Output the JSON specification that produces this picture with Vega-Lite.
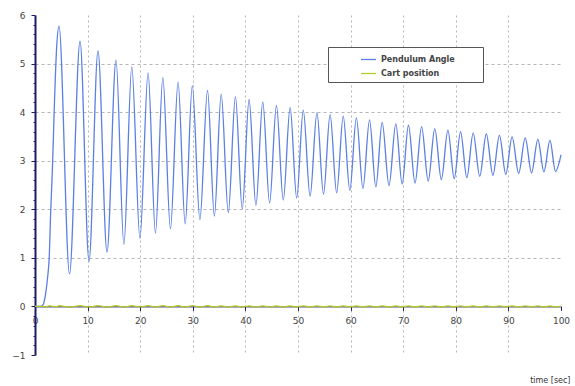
{
  "$schema": "https://vega.github.io/schema/vega-lite/v6.json",
  "width": 526,
  "height": 340,
  "autosize": {"type": "none"},
  "padding": {"left": 35, "top": 15, "right": 14, "bottom": 31},
  "background": "white",
  "config": {
    "view": {"stroke": null},
    "font": "DejaVu Sans"
  },
  "data": {
    "values": [
      {"t": 0, "Pendulum Angle": 0, "Cart position": 0},
      {"t": 1.0, "Pendulum Angle": 0.0, "Cart position": 0},
      {"t": 1.5, "Pendulum Angle": 0.03, "Cart position": 0},
      {"t": 2.0, "Pendulum Angle": 0.25, "Cart position": -0.01},
      {"t": 2.4, "Pendulum Angle": 0.6, "Cart position": 0},
      {"t": 2.7, "Pendulum Angle": 1.0, "Cart position": 0.01},
      {"t": 3.0, "Pendulum Angle": 2.0, "Cart position": 0.01},
      {"t": 3.3, "Pendulum Angle": 2.8, "Cart position": 0},
      {"t": 3.7, "Pendulum Angle": 4.2, "Cart position": 0},
      {"t": 4.1, "Pendulum Angle": 5.3, "Cart position": -0.01},
      {"t": 4.56, "Pendulum Angle": 5.77, "Cart position": 0.015},
      {"t": 6.56, "Pendulum Angle": 0.67, "Cart position": -0.01},
      {"t": 8.56, "Pendulum Angle": 5.46, "Cart position": 0.015},
      {"t": 10.27, "Pendulum Angle": 0.93, "Cart position": -0.01},
      {"t": 11.98, "Pendulum Angle": 5.26, "Cart position": 0.015},
      {"t": 13.69, "Pendulum Angle": 1.12, "Cart position": -0.01},
      {"t": 15.4, "Pendulum Angle": 5.07, "Cart position": 0.015},
      {"t": 16.9, "Pendulum Angle": 1.28, "Cart position": -0.01},
      {"t": 18.4, "Pendulum Angle": 4.93, "Cart position": 0.015},
      {"t": 19.95, "Pendulum Angle": 1.40, "Cart position": -0.01},
      {"t": 21.5, "Pendulum Angle": 4.81, "Cart position": 0.015},
      {"t": 22.9, "Pendulum Angle": 1.51, "Cart position": -0.01},
      {"t": 24.3, "Pendulum Angle": 4.71, "Cart position": 0.015},
      {"t": 25.75, "Pendulum Angle": 1.60, "Cart position": -0.01},
      {"t": 27.2, "Pendulum Angle": 4.62, "Cart position": 0.015},
      {"t": 28.55, "Pendulum Angle": 1.70, "Cart position": -0.01},
      {"t": 29.9, "Pendulum Angle": 4.54, "Cart position": 0.015},
      {"t": 31.35, "Pendulum Angle": 1.79, "Cart position": -0.01},
      {"t": 32.8, "Pendulum Angle": 4.45, "Cart position": 0.015},
      {"t": 34.1, "Pendulum Angle": 1.86, "Cart position": -0.01},
      {"t": 35.4, "Pendulum Angle": 4.37, "Cart position": 0.012},
      {"t": 36.75, "Pendulum Angle": 1.93, "Cart position": -0.01},
      {"t": 38.1, "Pendulum Angle": 4.32, "Cart position": 0.012},
      {"t": 39.4, "Pendulum Angle": 2.01, "Cart position": -0.01},
      {"t": 40.7, "Pendulum Angle": 4.26, "Cart position": 0.012},
      {"t": 42.0, "Pendulum Angle": 2.08, "Cart position": -0.01},
      {"t": 43.3, "Pendulum Angle": 4.21, "Cart position": 0.012},
      {"t": 44.6, "Pendulum Angle": 2.13, "Cart position": -0.01},
      {"t": 45.9, "Pendulum Angle": 4.14, "Cart position": 0.012},
      {"t": 47.2, "Pendulum Angle": 2.19, "Cart position": -0.01},
      {"t": 48.5, "Pendulum Angle": 4.10, "Cart position": 0.012},
      {"t": 49.75, "Pendulum Angle": 2.23, "Cart position": -0.01},
      {"t": 51.0, "Pendulum Angle": 4.04, "Cart position": 0.01},
      {"t": 52.3, "Pendulum Angle": 2.27, "Cart position": -0.01},
      {"t": 53.6, "Pendulum Angle": 3.99, "Cart position": 0.01},
      {"t": 54.85, "Pendulum Angle": 2.31, "Cart position": -0.01},
      {"t": 56.1, "Pendulum Angle": 3.95, "Cart position": 0.01},
      {"t": 57.35, "Pendulum Angle": 2.34, "Cart position": -0.01},
      {"t": 58.6, "Pendulum Angle": 3.92, "Cart position": 0.01},
      {"t": 59.85, "Pendulum Angle": 2.39, "Cart position": -0.01},
      {"t": 61.1, "Pendulum Angle": 3.88, "Cart position": 0.01},
      {"t": 62.35, "Pendulum Angle": 2.43, "Cart position": -0.01},
      {"t": 63.6, "Pendulum Angle": 3.84, "Cart position": 0.01},
      {"t": 64.8, "Pendulum Angle": 2.46, "Cart position": -0.01},
      {"t": 66.0, "Pendulum Angle": 3.79, "Cart position": 0.01},
      {"t": 67.3, "Pendulum Angle": 2.49, "Cart position": -0.01},
      {"t": 68.6, "Pendulum Angle": 3.76, "Cart position": 0.01},
      {"t": 69.8, "Pendulum Angle": 2.52, "Cart position": -0.01},
      {"t": 71.0, "Pendulum Angle": 3.73, "Cart position": 0.01},
      {"t": 72.25, "Pendulum Angle": 2.54, "Cart position": -0.01},
      {"t": 73.5, "Pendulum Angle": 3.70, "Cart position": 0.01},
      {"t": 74.75, "Pendulum Angle": 2.58, "Cart position": -0.01},
      {"t": 76.0, "Pendulum Angle": 3.66, "Cart position": 0.01},
      {"t": 77.25, "Pendulum Angle": 2.61, "Cart position": -0.01},
      {"t": 78.5, "Pendulum Angle": 3.63, "Cart position": 0.01},
      {"t": 79.7, "Pendulum Angle": 2.63, "Cart position": -0.01},
      {"t": 80.9, "Pendulum Angle": 3.60, "Cart position": 0.01},
      {"t": 82.1, "Pendulum Angle": 2.65, "Cart position": -0.01},
      {"t": 83.3, "Pendulum Angle": 3.57, "Cart position": 0.01},
      {"t": 84.55, "Pendulum Angle": 2.68, "Cart position": -0.01},
      {"t": 85.8, "Pendulum Angle": 3.55, "Cart position": 0.01},
      {"t": 87.05, "Pendulum Angle": 2.70, "Cart position": -0.01},
      {"t": 88.3, "Pendulum Angle": 3.52, "Cart position": 0.01},
      {"t": 89.5, "Pendulum Angle": 2.72, "Cart position": -0.01},
      {"t": 90.7, "Pendulum Angle": 3.49, "Cart position": 0.01},
      {"t": 91.95, "Pendulum Angle": 2.74, "Cart position": -0.01},
      {"t": 93.2, "Pendulum Angle": 3.47, "Cart position": 0.01},
      {"t": 94.4, "Pendulum Angle": 2.75, "Cart position": -0.01},
      {"t": 95.6, "Pendulum Angle": 3.44, "Cart position": 0.01},
      {"t": 96.75, "Pendulum Angle": 2.77, "Cart position": -0.01},
      {"t": 97.9, "Pendulum Angle": 3.42, "Cart position": 0.01},
      {"t": 98.95, "Pendulum Angle": 2.78, "Cart position": -0.01},
      {"t": 100, "Pendulum Angle": 3.12, "Cart position": 0}
    ]
  },
  "transform": [{"fold": ["Pendulum Angle", "Cart position"], "as": ["series", "value"]}],
  "mark": {"type": "line", "interpolate": "monotone", "strokeWidth": 1.3},
  "encoding": {
    "x": {
      "field": "t",
      "type": "quantitative",
      "scale": {"domain": [0, 100], "nice": false},
      "axis": {
        "values": [0, 10, 20, 30, 40, 50, 60, 70, 80, 90, 100],
        "offset": -48.6,
        "title": "time [sec]",
        "titleFontSize": 8,
        "titleFontWeight": "normal",
        "titleColor": "#333",
        "titleAnchor": "end",
        "titleAlign": "right",
        "titleBaseline": "middle",
        "titleX": 535,
        "titleY": 74,
        "labelFontSize": 9,
        "labelColor": "#444",
        "labelPadding": 6,
        "labelFlush": false,
        "labelOverlap": false,
        "domainColor": "#1c1c6a",
        "domainWidth": 1,
        "tickColor": "#1c1c6a",
        "tickSize": 4,
        "grid": true,
        "gridColor": "#b5b5b5",
        "gridDash": [2, 3],
        "gridWidth": 1,
        "gridOpacity": {"condition": {"test": "datum.value > 0.5 && datum.value < 99.5", "value": 1}, "value": 0}
      }
    },
    "y": {
      "field": "value",
      "type": "quantitative",
      "scale": {"domain": [-1, 6], "nice": false, "zero": false},
      "axis": {
        "title": null,
        "values": [-1, -0.8, -0.6, -0.4, -0.2, 0, 0.2, 0.4, 0.6, 0.8, 1, 1.2, 1.4, 1.6, 1.8, 2, 2.2, 2.4, 2.6, 2.8, 3, 3.2, 3.4, 3.6, 3.8, 4, 4.2, 4.4, 4.6, 4.8, 5, 5.2, 5.4, 5.6, 5.8, 6],
        "labelExpr": "abs(datum.value - round(datum.value)) < 0.01 ? format(round(datum.value), 'd') : ''",
        "labelOverlap": false,
        "labelFontSize": 9,
        "labelColor": "#444",
        "labelPadding": 6,
        "labelFlush": false,
        "domainColor": "#1c1c6a",
        "domainWidth": 2,
        "tickColor": "#1c1c6a",
        "tickWidth": 1,
        "tickSize": {"condition": {"test": "abs(datum.value - round(datum.value)) < 0.01", "value": 4}, "value": 2},
        "grid": true,
        "gridColor": "#b5b5b5",
        "gridDash": [3, 3],
        "gridWidth": 1,
        "gridOpacity": {"condition": {"test": "abs(datum.value - round(datum.value)) < 0.01 && datum.value > 0.5 && datum.value < 5.5", "value": 1}, "value": 0}
      }
    },
    "color": {
      "field": "series",
      "type": "nominal",
      "scale": {"domain": ["Pendulum Angle", "Cart position"], "range": ["#5b7fe3", "#b4cc28"]},
      "legend": {
        "orient": "none",
        "legendX": 293,
        "legendY": 32,
        "title": "MMM",
        "titleOrient": "right",
        "titleOpacity": 0,
        "titleFontSize": 8,
        "titlePadding": 0,
        "symbolType": "stroke",
        "symbolSize": 225,
        "symbolStrokeWidth": 1.3,
        "symbolOffset": 28,
        "labelOffset": 4,
        "labelFontSize": 8,
        "labelFontWeight": "bold",
        "labelColor": "#444",
        "rowPadding": 1,
        "padding": 4,
        "fillColor": "white",
        "strokeColor": "#555"
      }
    }
  }
}
